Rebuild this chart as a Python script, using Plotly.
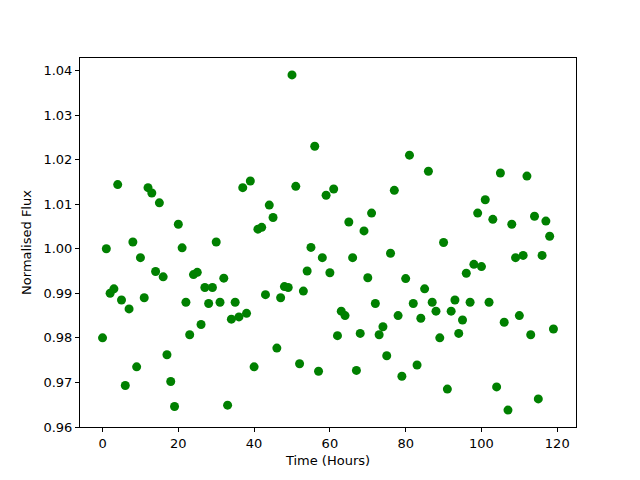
import plotly.graph_objects as go

hours = list(range(120))
flux = [
    0.980, 1.000, 0.990, 0.991, 1.0144, 0.9885, 0.9693, 0.9865, 1.0015, 0.9735,
    0.998, 0.989, 1.0137, 1.0125, 0.9949, 1.0103, 0.9937, 0.9762, 0.9702, 0.9646,
    1.0055, 1.0002, 0.988, 0.9807, 0.9942, 0.9947, 0.983, 0.9913, 0.9877, 0.9913,
    1.0015, 0.988, 0.9934, 0.9649, 0.9842, 0.988, 0.9847, 1.0137, 0.9855, 1.0152,
    0.9735, 1.0044, 1.0048, 0.9897, 1.0098, 1.007, 0.9777, 0.989, 0.9915, 0.9913,
    1.039, 1.014, 0.9742, 0.9905, 0.995, 1.0003, 1.023, 0.9725, 0.998, 1.012,
    0.9946, 1.0134, 0.9805, 0.986, 0.985, 1.006, 0.998, 0.9727, 0.981, 1.004,
    0.9935, 1.008, 0.9877, 0.9807, 0.9825, 0.976, 0.999, 1.0131, 0.985, 0.9714,
    0.9933, 1.021, 0.9877, 0.9739, 0.9844, 0.991, 1.0174, 0.988, 0.986, 0.980,
    1.0014, 0.9685, 0.986, 0.9885, 0.981, 0.984, 0.9945, 0.988, 0.9965, 1.008,
    0.996, 1.011, 0.988, 1.0066, 0.969, 1.017, 0.9835, 0.9638, 1.0055, 0.998,
    0.985, 0.9985, 1.0163, 0.9807, 1.0073, 0.9663, 0.9985, 1.0062, 1.0028, 0.982,
]

x_ticks = [0, 20, 40, 60, 80, 100, 120]
y_ticks = [0.96, 0.97, 0.98, 0.99, 1.00, 1.01, 1.02, 1.03, 1.04]

fig = go.Figure(go.Scatter(
    x=hours, y=flux, mode="markers",
    marker=dict(color="#008000", size=9, line=dict(width=0)),
))

font = dict(family="DejaVu Sans", size=13, color="black")
axis_common = dict(showline=True, linecolor="black", linewidth=1, mirror=True,
                   ticks="outside", ticklen=4, tickwidth=1, tickcolor="black",
                   showgrid=False, zeroline=False, tickfont=font)

fig.update_layout(
    width=632, height=472,
    margin=dict(l=72, r=64, t=50, b=53),
    plot_bgcolor="white", paper_bgcolor="white",
    showlegend=False, font=font,
    xaxis=dict(range=[-5.95, 124.95], tickvals=x_ticks,
               title=dict(text="Time (Hours)", font=font, standoff=6), **axis_common),
    yaxis=dict(range=[0.96, 1.0428], tickvals=y_ticks, tickformat=".2f",
               title=dict(text="Normalised Flux", font=font, standoff=8), **axis_common),
)

fig.write_html("out.html")
